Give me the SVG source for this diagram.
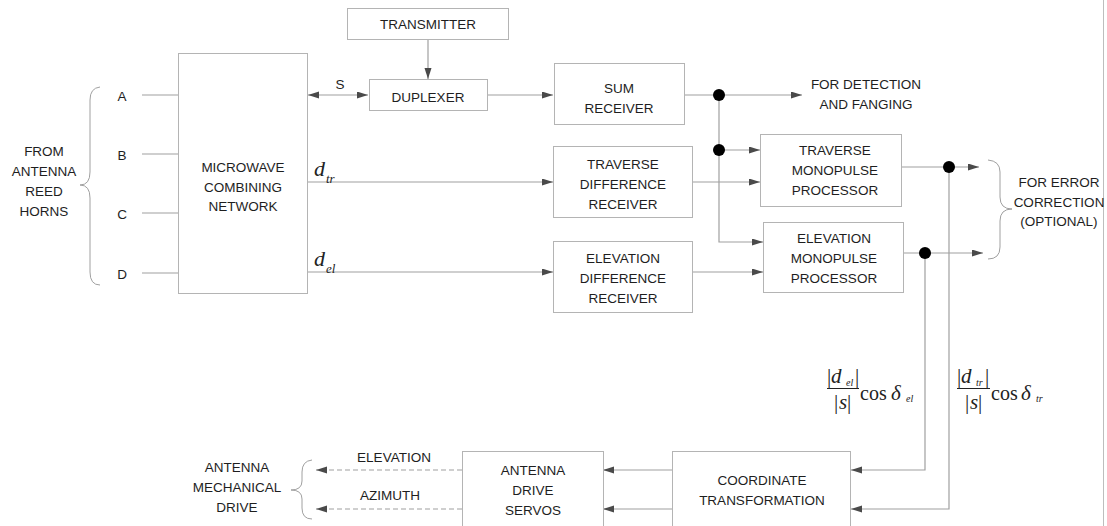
<svg xmlns="http://www.w3.org/2000/svg" width="1107" height="526" viewBox="0 0 1107 526">
<defs>
<marker id="ah" markerUnits="userSpaceOnUse" markerWidth="12" markerHeight="8" refX="11" refY="3.5" orient="auto-start-reverse">
<path d="M0,0 L11,3.5 L0,7 z" fill="#4a4a4a"/>
</marker>
<style>
.box{fill:#fff;stroke:#b4b4b4;stroke-width:1}
.t{font-family:"Liberation Sans",Arial,sans-serif;font-size:13.5px;fill:#1e1e1e;text-anchor:middle}
.ln{fill:none;stroke:#a0a0a0;stroke-width:1.2}
.ar{fill:none;stroke:#a0a0a0;stroke-width:1.2;marker-end:url(#ah)}
.da{fill:none;stroke:#a0a0a0;stroke-width:1.2;stroke-dasharray:5,3;marker-end:url(#ah)}
.br{fill:none;stroke:#a0a0a0;stroke-width:1}
.dot{fill:#000}
.m{font-family:"Liberation Serif","Times New Roman",serif;fill:#222}
.mi{font-style:italic}
.bar{stroke:#222;stroke-width:1}
</style>
</defs>
<rect width="1107" height="526" fill="#fff"/>
<line x1="1103.5" y1="0" x2="1103.5" y2="526" stroke="#bdbdbd" stroke-width="1"/>

<g id="connectors">
<path class="ln" d="M142,95 H178"/>
<path class="ln" d="M142,154 H178"/>
<path class="ln" d="M142,213 H178"/>
<path class="ln" d="M142,273 H178"/>
<path class="ar" d="M308,95 H368" marker-start="url(#ah)"/>
<path class="ar" d="M428,39 V79"/>
<path class="ar" d="M487,95 H553"/>
<path class="ar" d="M307,182 H553"/>
<path class="ar" d="M307,272 H553"/>
<path class="ar" d="M684,95 H802"/>
<path class="ar" d="M719,95 V242 H763"/>
<path class="ar" d="M719,150 H760"/>
<path class="ar" d="M692,182 H760"/>
<path class="ar" d="M692,272 H763"/>
<path class="ar" d="M901,167 H979"/>
<path class="ar" d="M903,253 H983"/>
<path class="ar" d="M949,167 V509 H851"/>
<path class="ar" d="M925,253 V470 H851"/>
<path class="ar" d="M672,470 H603"/>
<path class="ar" d="M672,509 H603"/>
<path class="da" d="M462,470 H316"/>
<path class="da" d="M462,509 H316"/>
<circle class="dot" cx="719" cy="95" r="6"/>
<circle class="dot" cx="719" cy="150" r="6"/>
<circle class="dot" cx="949" cy="167" r="6"/>
<circle class="dot" cx="925" cy="253" r="6"/>
</g>

<g id="horns">
<path class="br" d="M100,87 Q90,88 90,100 L90,172 Q90,185 80,185 Q90,185 90,198 L90,272 Q90,285 100,285"/>
<text class="t" x="44" y="156">FROM</text>
<text class="t" x="44" y="176">ANTENNA</text>
<text class="t" x="44" y="196">REED</text>
<text class="t" x="44" y="216">HORNS</text>
<text class="t" x="122" y="101">A</text>
<text class="t" x="122" y="160">B</text>
<text class="t" x="122" y="219">C</text>
<text class="t" x="122" y="279">D</text>
</g>

<g id="microwave">
<rect class="box" x="178.5" y="53.5" width="129" height="240"/>
<text class="t" x="243" y="172">MICROWAVE</text>
<text class="t" x="243" y="192">COMBINING</text>
<text class="t" x="243" y="211">NETWORK</text>
</g>

<g id="labels">
<text class="t" x="340" y="89">S</text>
<text class="m mi" x="314" y="176" font-size="22">d</text>
<text class="m mi" x="326" y="183" font-size="13">tr</text>
<text class="m mi" x="314" y="266" font-size="22">d</text>
<text class="m mi" x="326" y="273" font-size="13">el</text>
</g>

<g id="transmitter">
<rect class="box" x="347.5" y="8.5" width="161" height="31"/>
<text class="t" x="428" y="29">TRANSMITTER</text>
</g>

<g id="duplexer">
<rect class="box" x="369.5" y="79.5" width="118" height="31"/>
<text class="t" x="428" y="102">DUPLEXER</text>
</g>

<g id="sum">
<rect class="box" x="554.5" y="63.5" width="130" height="61"/>
<text class="t" x="619" y="93">SUM</text>
<text class="t" x="619" y="113">RECEIVER</text>
</g>

<g id="travdiff">
<rect class="box" x="553.5" y="146.5" width="139" height="71"/>
<text class="t" x="623" y="169">TRAVERSE</text>
<text class="t" x="623" y="189">DIFFERENCE</text>
<text class="t" x="623" y="209">RECEIVER</text>
</g>

<g id="elevdiff">
<rect class="box" x="553.5" y="241.5" width="139" height="71"/>
<text class="t" x="623" y="263">ELEVATION</text>
<text class="t" x="623" y="283">DIFFERENCE</text>
<text class="t" x="623" y="303">RECEIVER</text>
</g>

<g id="detection">
<text class="t" x="866" y="89">FOR DETECTION</text>
<text class="t" x="866" y="109">AND FANGING</text>
</g>

<g id="travmono">
<rect class="box" x="760.5" y="134.5" width="141" height="72"/>
<text class="t" x="835" y="155">TRAVERSE</text>
<text class="t" x="835" y="175">MONOPULSE</text>
<text class="t" x="835" y="195">PROCESSOR</text>
</g>

<g id="elevmono">
<rect class="box" x="763.5" y="222.5" width="140" height="70"/>
<text class="t" x="834" y="243">ELEVATION</text>
<text class="t" x="834" y="263">MONOPULSE</text>
<text class="t" x="834" y="283">PROCESSOR</text>
</g>

<g id="errorcorr">
<path class="br" d="M988,160 Q1000,161 1000,172 L1000,197 Q1000,209 1012,209 Q1000,209 1000,221 L1000,247 Q1000,259 988,259"/>
<text class="t" x="1059" y="187">FOR ERROR</text>
<text class="t" x="1059" y="207">CORRECTION</text>
<text class="t" x="1059" y="226">(OPTIONAL)</text>
</g>

<g id="formula-el">
<text class="m" x="827" y="383" font-size="21">|</text>
<text class="m mi" x="831" y="383" font-size="21">d</text>
<text class="m mi" x="846" y="386" font-size="10">el</text>
<text class="m" x="855" y="383" font-size="21">|</text>
<line class="bar" x1="827" y1="388.5" x2="859" y2="388.5"/>
<text class="m" x="834" y="409" font-size="21">|</text>
<text class="m mi" x="839" y="409" font-size="21">s</text>
<text class="m" x="847" y="409" font-size="21">|</text>
<text class="m" x="860" y="400" font-size="20">cos</text>
<text class="m mi" x="891" y="400" font-size="21">δ</text>
<text class="m mi" x="906" y="402" font-size="10">el</text>
</g>

<g id="formula-tr">
<text class="m" x="957" y="383" font-size="21">|</text>
<text class="m mi" x="961" y="383" font-size="21">d</text>
<text class="m mi" x="976" y="386" font-size="10">tr</text>
<text class="m" x="985" y="383" font-size="21">|</text>
<line class="bar" x1="957" y1="388.5" x2="990" y2="388.5"/>
<text class="m" x="965" y="409" font-size="21">|</text>
<text class="m mi" x="970" y="409" font-size="21">s</text>
<text class="m" x="978" y="409" font-size="21">|</text>
<text class="m" x="991" y="400" font-size="20">cos</text>
<text class="m mi" x="1021" y="400" font-size="21">δ</text>
<text class="m mi" x="1036" y="402" font-size="10">tr</text>
</g>

<g id="coord">
<rect class="box" x="672.5" y="451.5" width="178" height="90"/>
<text class="t" x="762" y="485">COORDINATE</text>
<text class="t" x="762" y="505">TRANSFORMATION</text>
</g>

<g id="servos">
<rect class="box" x="462.5" y="451.5" width="141" height="90"/>
<text class="t" x="533" y="475">ANTENNA</text>
<text class="t" x="533" y="495">DRIVE</text>
<text class="t" x="533" y="515">SERVOS</text>
</g>

<g id="drivelabels">
<text class="t" x="394" y="462">ELEVATION</text>
<text class="t" x="390" y="500">AZIMUTH</text>
</g>

<g id="mechdrive">
<path class="br" d="M312,460 Q302,461 302,472 L302,481 Q302,490 291,490 Q302,490 302,499 L302,508 Q302,519 312,519"/>
<text class="t" x="237" y="472">ANTENNA</text>
<text class="t" x="237" y="492">MECHANICAL</text>
<text class="t" x="237" y="512">DRIVE</text>
</g>
</svg>
